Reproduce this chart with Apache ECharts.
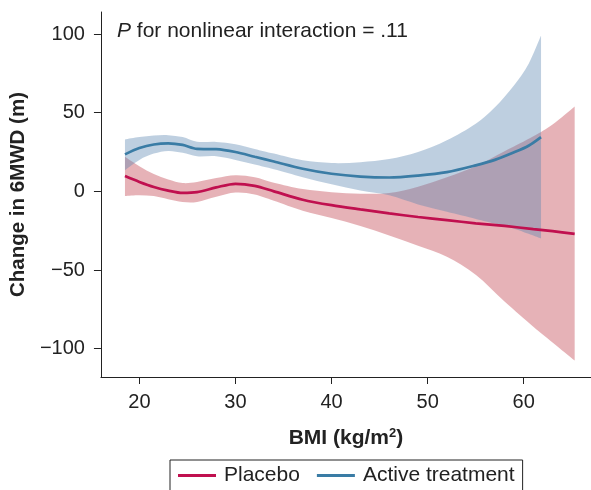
<!DOCTYPE html>
<html>
<head>
<meta charset="utf-8">
<script src="https://cdn.jsdelivr.net/npm/echarts@6/dist/echarts.min.js"></script>
<style>
  html, body { margin: 0; padding: 0; background: #fff; }
  #chart { width: 591px; height: 490px; }
</style>
</head>
<body>
<div id="chart"></div>
<script>
var placeboX    = [18.5, 20, 21.5, 23, 24.5, 26, 28, 30, 32, 34, 37, 40, 43, 46, 49, 52, 55, 58, 61, 63, 65.3];
var placeboMean = [9.7, 6, 2.8, 0.5, -1, -0.5, 2.5, 4.8, 3.5, 0, -5.3, -8.8, -11.5, -14, -16.3, -18.3, -20.3, -22, -24, -25.3, -27];
var placeboLow  = [-3, -2.5, -3, -5, -6.8, -6.8, -3.5, -0.8, -2, -6, -12.3, -17, -22, -28, -34.5, -41.5, -53, -70, -86, -96, -107.5];
var placeboHigh = [22, 16, 11, 7.5, 5.3, 6, 8.5, 10.3, 9, 5.5, 1.5, -0.5, -1.5, -1, 3, 9, 16, 25.5, 35, 42.5, 54];

var activeX    = [18.5, 20, 21.5, 23, 24.5, 26, 28, 30, 32, 34, 37, 40, 43, 46, 49, 52, 55, 57, 59, 60.5, 61.8];
var activeMean = [23.5, 27.5, 29.8, 30.5, 29.5, 27, 26.8, 25, 22, 19, 14.4, 11.2, 9.4, 8.8, 10, 12.2, 16.5, 20, 24.8, 29, 34.5];
var activeLow  = [13.5, 20, 24, 25.7, 24.5, 22.3, 22.3, 20, 17, 14, 9, 4.5, 0.5, -2.5, -8.3, -13, -17.5, -20.5, -23.7, -27, -30];
var activeHigh = [33, 34.5, 35.5, 35.7, 34.5, 31.5, 31.4, 30, 27, 24, 19.7, 18, 18.5, 20.5, 25, 32.5, 43, 53.5, 67.5, 81, 99];

var yTicks = [-100, -50, 0, 50, 100];
var xTicks = [20, 30, 40, 50, 60];

var pairs = function (xs, ys) {
    return xs.map(function (x, i) { return [x, ys[i]]; });
};

// smooth path through pixel points (catmull-rom as cubic bezier)
var curve = function (pts, first) {
    var d = (first ? 'M' : 'L') + pts[0][0] + ',' + pts[0][1];
    for (var i = 0; i < pts.length - 1; i++) {
        var p0 = pts[Math.max(i - 1, 0)], p1 = pts[i], p2 = pts[i + 1], p3 = pts[Math.min(i + 2, pts.length - 1)];
        var c1x = p1[0] + (p2[0] - p0[0]) / 6, c1y = p1[1] + (p2[1] - p0[1]) / 6;
        var c2x = p2[0] - (p3[0] - p1[0]) / 6, c2y = p2[1] - (p3[1] - p1[1]) / 6;
        d += 'C' + c1x + ',' + c1y + ',' + c2x + ',' + c2y + ',' + p2[0] + ',' + p2[1];
    }
    return d;
};

var band = function (name, xs, lo, hi, color, z) {
    return {
        name: name, type: 'custom', silent: true, z: z,
        data: [[xs[0], lo[0]]],
        renderItem: function (params, api) {
            var up = xs.map(function (x, i) { return api.coord([x, hi[i]]); });
            var dn = xs.map(function (x, i) { return api.coord([x, lo[i]]); }).reverse();
            return {
                type: 'path',
                shape: { pathData: curve(up, true) + curve(dn, false) + 'Z' },
                style: { fill: color }
            };
        }
    };
};

var minus = function (v) { return v < 0 ? '\u2212' + Math.abs(v) : String(v); };

var chart = echarts.init(document.getElementById('chart'));

var option = {
    animation: false,
    textStyle: { fontFamily: 'Liberation Sans, Arial, sans-serif' },
    title: {
        text: '{i|P} for nonlinear interaction = .11',
        left: 117, top: 21, padding: 0,
        textStyle: {
            fontSize: 21, fontWeight: 'normal', color: '#222',
            rich: { i: { fontSize: 21, fontStyle: 'italic', color: '#222' } }
        }
    },
    grid: { left: 99, right: 0, top: 12, bottom: 113 },
    legend: {
        data: ['Placebo', 'Active treatment'],
        left: 170, top: 460,
        padding: [5, 8, 20, 8],
        borderColor: '#222', borderWidth: 1,
        icon: 'rect', itemWidth: 38, itemHeight: 3, itemGap: 17,
        textStyle: { fontSize: 21, color: '#222', padding: [0, 0, 0, 3] }
    },
    xAxis: {
        type: 'value', min: 16, max: 67,
        name: 'BMI (kg/m{sup|2})', nameLocation: 'middle', nameGap: 50,
        nameTextStyle: {
            fontSize: 21, fontWeight: 'bold', color: '#222',
            rich: { sup: { fontSize: 13, fontWeight: 'bold', color: '#222', verticalAlign: 'top', padding: [0, 0, 9, 0] } }
        },
        axisLine: { show: true, onZero: false, lineStyle: { color: '#222', width: 1 } },
        axisTick: { show: true, length: 7, customValues: xTicks, lineStyle: { color: '#222' } },
        axisLabel: { fontSize: 20, color: '#222', margin: 15, customValues: xTicks },
        splitLine: { show: false }
    },
    yAxis: {
        type: 'value', min: -118, max: 114,
        name: 'Change in 6MWD (m)', nameLocation: 'middle', nameGap: 64, nameRotate: 90,
        nameTextStyle: { fontSize: 20.5, fontWeight: 'bold', color: '#222' },
        axisLine: { show: true, onZero: false, lineStyle: { color: '#222', width: 1 } },
        axisTick: { show: true, length: 7, customValues: yTicks, lineStyle: { color: '#222' } },
        axisLabel: { fontSize: 20, color: '#222', margin: 16, customValues: yTicks, formatter: minus },
        splitLine: { show: false }
    },
    series: [
        band('placeboBand', placeboX, placeboLow, placeboHigh, 'rgba(205,101,111,0.5)', 1),
        band('activeBand', activeX, activeLow, activeHigh, 'rgba(92,135,178,0.4)', 2),
        {
            name: 'Placebo', type: 'line', data: pairs(placeboX, placeboMean),
            smooth: 0.3, symbol: 'none', z: 3,
            itemStyle: { color: '#c0104f' },
            lineStyle: { color: '#c0104f', width: 2.7 }
        },
        {
            name: 'Active treatment', type: 'line', data: pairs(activeX, activeMean),
            smooth: 0.3, symbol: 'none', z: 3,
            itemStyle: { color: '#3a7ca5' },
            lineStyle: { color: '#3a7ca5', width: 2.7 }
        }
    ]
};

chart.setOption(option);
</script>
</body>
</html>
